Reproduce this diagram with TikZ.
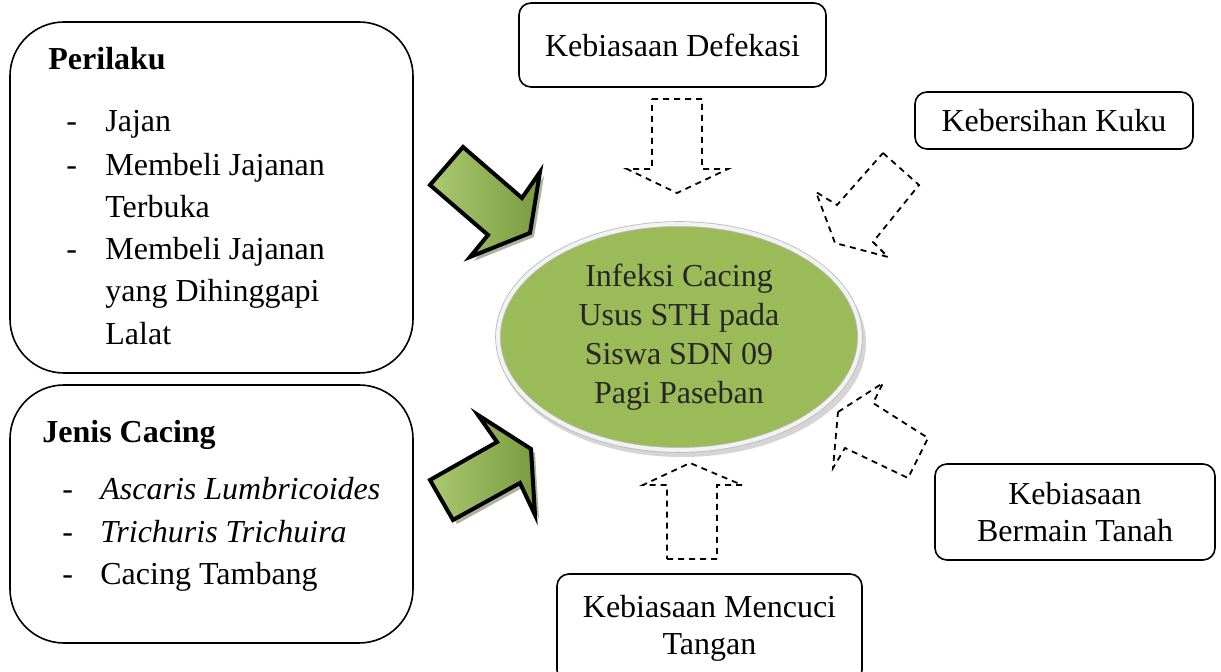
\documentclass[tikz,border=0pt]{standalone}
\usepackage{fontspec}
\setmainfont{Liberation Serif}
\usepackage{xcolor}
\usepackage{tikz}
\usetikzlibrary{positioning,shapes.geometric}

\definecolor{olivefill}{RGB}{155,187,89}
\definecolor{arrowlight}{RGB}{170,201,112}
\definecolor{arrowdark}{RGB}{122,154,64}
\definecolor{shadowgray}{RGB}{140,148,120}
\definecolor{textgray}{RGB}{38,38,38}

\tikzset{
  txt/.style={inner sep=0pt, anchor=base west, font=\fontsize{16}{21}\selectfont},
  headtxt/.style={txt, font=\fontsize{16}{21}\selectfont\bfseries},
  bigbox/.style={draw, line width=0.8pt, rounded corners=27pt},
  smallbox/.style={draw, line width=0.8pt, rounded corners=6pt, align=center,
    font=\fontsize{16}{18.5}\selectfont},
  greenarrow/.style={draw, line width=2pt, line join=miter,
    left color=arrowlight, right color=arrowdark},
  arrowshadow/.style={fill=shadowgray, opacity=.7},
  hollowarrow/.style={draw, line width=0.9pt, dash pattern=on 3pt off 2.5pt}
}

\newcommand\perilakuarrow{(463,147) -- (522,198) -- (540,172) -- (530,233) -- (470,257) -- (488,235) -- (430,185) -- cycle}
\newcommand\cacingarrow{(478,415) -- (497,442) -- (430,480) -- (453,520) -- (520,483) -- (535,515) -- (531,449) -- cycle}

\begin{document}
\begin{tikzpicture}[x=0.5pt,y=-0.5pt]
    \useasboundingbox (0,0) rectangle (1221,672);
    \clip (0,0) rectangle (1221,672);
    \fill[white] (0,0) rectangle (1221,672);

    % left boxes
    \node[bigbox, minimum width=201.5pt, minimum height=175.5pt] (perilaku) at (211.5,197.5) {};
    \node[bigbox, minimum width=201.5pt, minimum height=129pt] (jenis) at (211.5,514) {};

    \node[headtxt] (perilakuhead) at (48,70) {Perilaku};
    \foreach \i/\yy/\t in {1/132/Jajan, 2/176/Membeli Jajanan, 3/218/Terbuka,
                           4/260/Membeli Jajanan, 5/302/yang Dihinggapi, 6/345/Lalat}
      \node[txt] (perilaku\i) at (105,\yy) {\t};
    \foreach \i/\yy in {1/132, 2/176, 4/260}
      \node[txt] (pdash\i) at (66,\yy) {-};

    \node[headtxt] (jenishead) at (42,443) {Jenis Cacing};
    \node[txt] (jenis1) at (100,500) {\itshape Ascaris Lumbricoides};
    \node[txt] (jenis2) at (100,543) {\itshape Trichuris Trichuira};
    \node[txt] (jenis3) at (100,585) {Cacing Tambang};
    \foreach \i/\yy in {1/500, 2/543, 3/585}
      \node[txt] (jdash\i) at (62,\yy) {-};

    % green arrows
    \fill[arrowshadow, shift={(4,4)}] \perilakuarrow;
    \path[greenarrow] \perilakuarrow;
    \fill[arrowshadow, shift={(4,4)}] \cacingarrow;
    \path[greenarrow] \cacingarrow;

    % centre
    \fill[gray!55, opacity=.6] (682,343) ellipse [x radius=92pt, y radius=57pt];
    \node[ellipse, minimum width=181pt, minimum height=112pt, fill=olivefill,
          draw=gray!55, double=white!90!gray, double distance=2pt,
          align=center, text=textgray, font=\fontsize{16}{19.5}\selectfont]
          (infeksi) at (679,337) {Infeksi Cacing\\Usus STH pada\\Siswa SDN 09\\Pagi Paseban};

    % right boxes
    \node[smallbox, minimum width=153.5pt, minimum height=42pt] (defekasi) at (672.5,45) {Kebiasaan Defekasi};
    \node[smallbox, minimum width=139pt, minimum height=28.5pt] (kuku) at (1054,120.5) {Kebersihan Kuku};
    \node[smallbox, minimum width=140pt, minimum height=48pt] (tanah) at (1075,512) {Kebiasaan\\Bermain Tanah};
    \node[smallbox, minimum width=152.5pt, minimum height=54pt] (mencuci) at (709.5,628) {Kebiasaan Mencuci\\Tangan};

    % dashed arrows
    \draw[hollowarrow] (652,99) -- (702,99) -- (702,169) -- (728,169) -- (677,193) -- (627,169) -- (652,169) -- cycle;
    \draw[hollowarrow] (667,559) -- (717,559) -- (717,485) -- (742,485) -- (690,463) -- (643,485) -- (667,485) -- cycle;
    \draw[hollowarrow] (883,153) -- (919,185) -- (873,242) -- (888,257) -- (835,243) -- (816,192) -- (837,205) -- cycle;
    \draw[hollowarrow] (838,412) -- (883,383) -- (873,403) -- (928,438) -- (908,478) -- (845,448) -- (833,468) -- cycle;
\end{tikzpicture}
\end{document}
